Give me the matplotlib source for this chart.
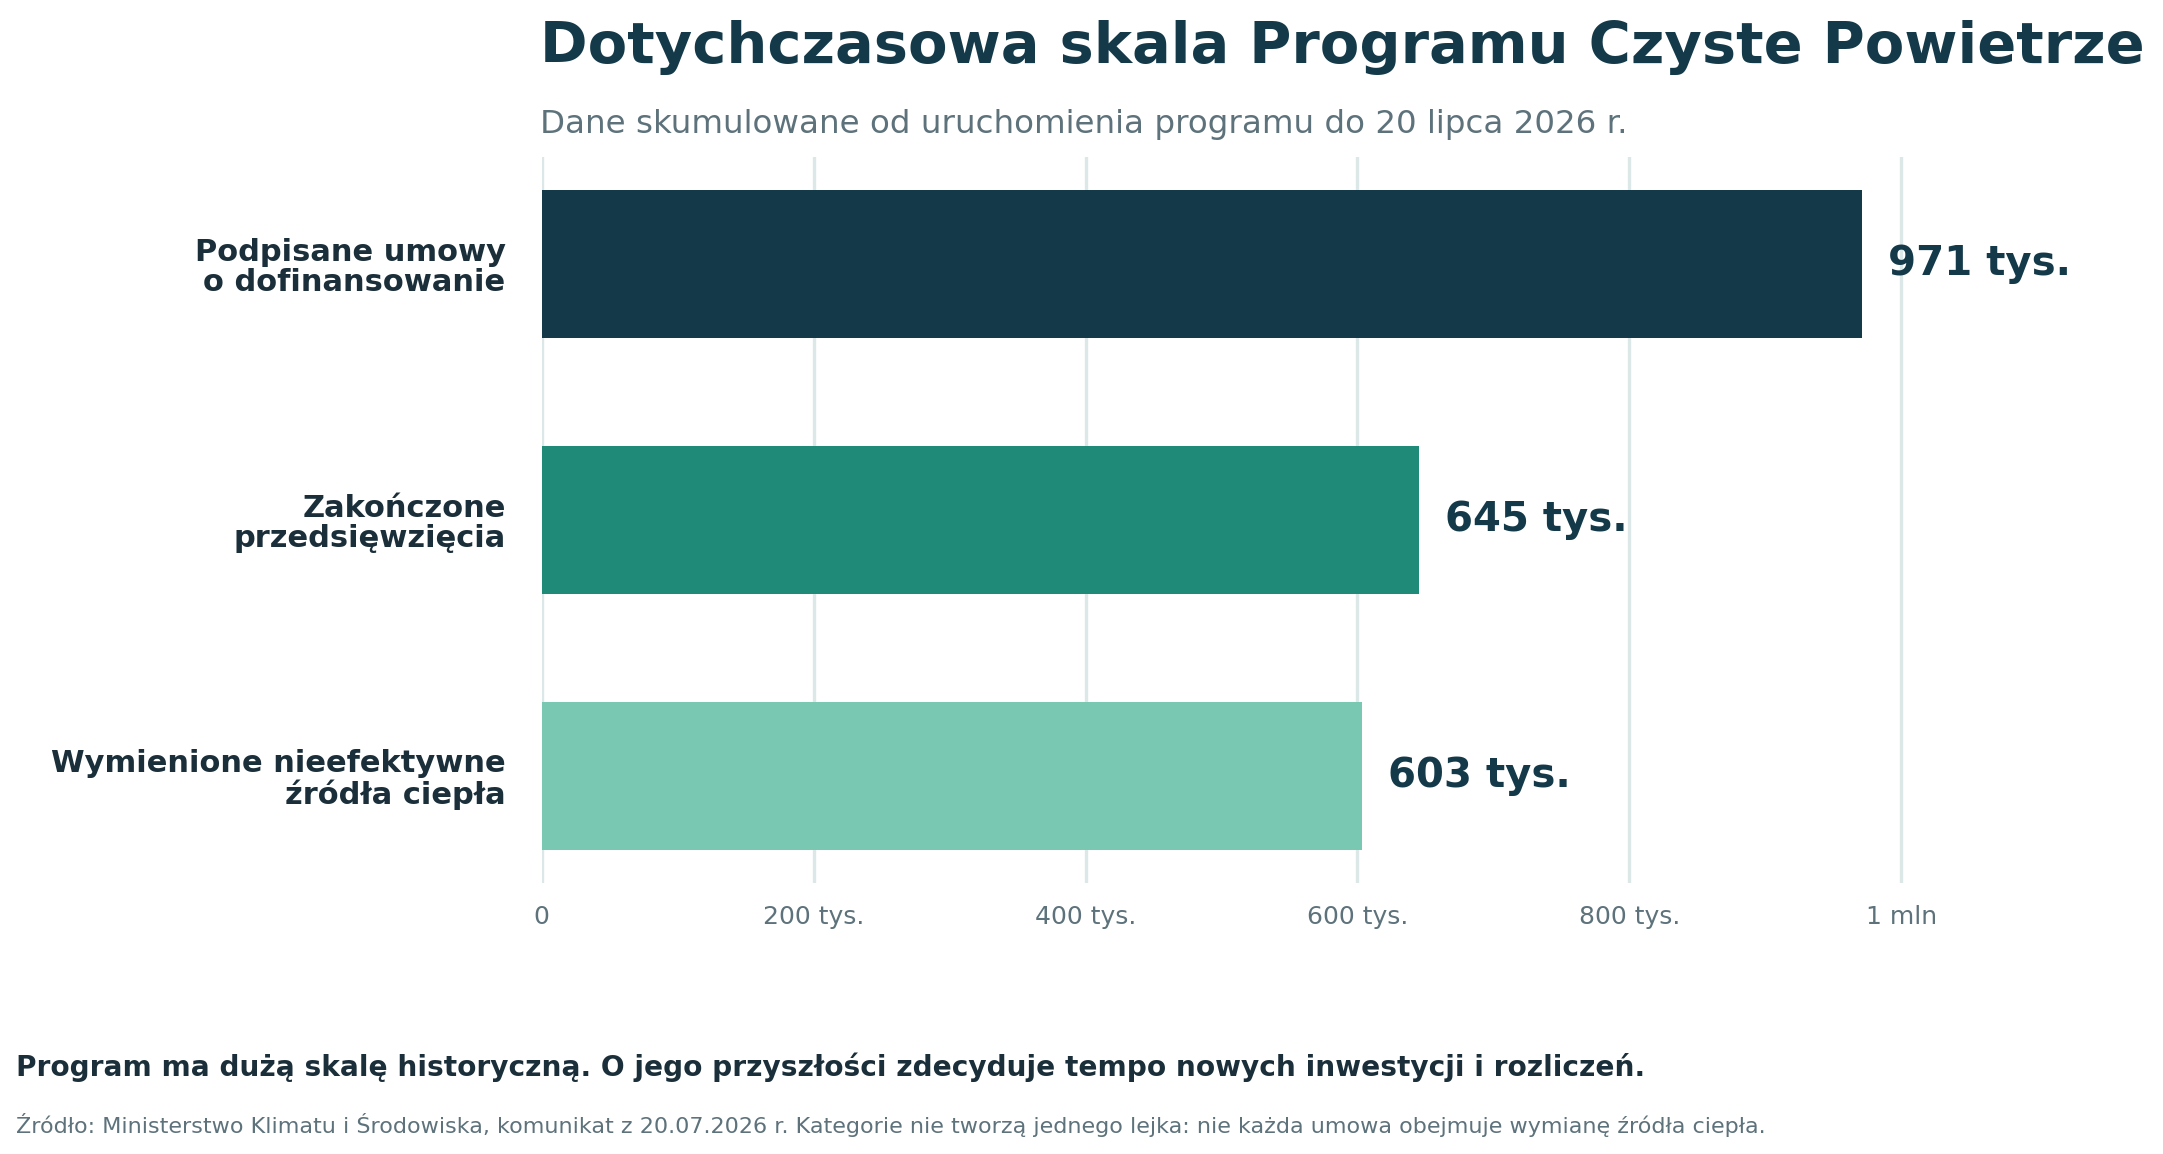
import matplotlib
matplotlib.use("Agg")
import matplotlib.pyplot as plt
from matplotlib.ticker import FuncFormatter

categories = ["Podpisane umowy\no dofinansowanie",
              "Zakończone\nprzedsięwzięcia",
              "Wymienione nieefektywne\nźródła ciepła"]
values = [971000, 645000, 603000]
value_labels = ["971 tys.", "645 tys.", "603 tys."]
xticks = [0, 200000, 400000, 600000, 800000, 1000000]
xtick_labels = ["0", "200 tys.", "400 tys.", "600 tys.", "800 tys.", "1 mln"]

bar_colors = ["#143a4a", "#1f8a78", "#79c8b1"]
dark = "#143a4a"
label_dark = "#1b2f3a"
gray = "#5d727b"
grid_color = "#dce8e8"

plt.rcParams["font.family"] = ["DejaVu Sans"]

fig = plt.figure(figsize=(2163 / 200, 1154 / 200), dpi=200)
ax = fig.add_axes([0.2504, 0.2348, 0.6915, 0.6292])

ypos = list(range(len(categories)))
ax.barh(ypos, values, height=0.58, color=bar_colors, zorder=3)
ax.invert_yaxis()
ax.set_xlim(0, 1100000)

# value labels just right of each bar
for y, v, lab in zip(ypos, values, value_labels):
    ax.text(v + max(values) * 0.02, y, lab, va="center", ha="left",
            fontsize=14.5, fontweight="bold", color=dark, zorder=4)

ax.set_yticks(ypos)
ax.set_yticklabels(categories, fontsize=11, fontweight="bold",
                   color=label_dark, linespacing=1.05)
ax.set_xticks(xticks)
ax.xaxis.set_major_formatter(FuncFormatter(lambda v, p: xtick_labels[xticks.index(v)] if v in xticks else ""))
ax.tick_params(axis="x", length=0, pad=8, labelsize=9, labelcolor=gray)
ax.tick_params(axis="y", length=0, pad=13)

ax.grid(axis="x", color=grid_color, linewidth=1.2, zorder=0)
ax.grid(axis="y", visible=False)
for s in ax.spines.values():
    s.set_visible(False)

fig.text(0.2497, 0.9454, "Dotychczasowa skala Programu Czyste Powietrze",
         fontsize=20.7, fontweight="bold", color=dark, va="baseline", ha="left")
fig.text(0.2497, 0.8847, "Dane skumulowane od uruchomienia programu do 20 lipca 2026 r.",
         fontsize=11.7, color=gray, va="baseline", ha="left")
fig.text(0.0076, 0.0676,
         "Program ma dużą skalę historyczną. O jego przyszłości zdecyduje tempo nowych inwestycji i rozliczeń.",
         fontsize=10.1, fontweight="bold", color=label_dark, va="baseline", ha="left")
fig.text(0.0076, 0.0185,
         "Źródło: Ministerstwo Klimatu i Środowiska, komunikat z 20.07.2026 r. Kategorie nie tworzą jednego lejka: nie każda umowa obejmuje wymianę źródła ciepła.",
         fontsize=8, color=gray, va="baseline", ha="left")

fig.savefig("out.png", dpi=200, facecolor="white")
